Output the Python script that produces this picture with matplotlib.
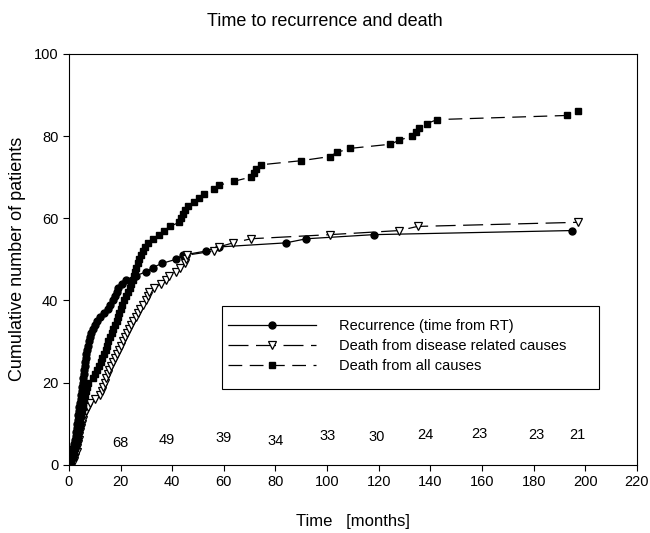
import matplotlib.pyplot as plt
from matplotlib.patches import Rectangle

plt.rcParams['font.family'] = ['Liberation Sans', 'DejaVu Sans']

# Recurrence (time from RT): event times and cumulative counts
rec_x = [0, 0.5, 1, 1.5, 2, 2.3, 2.6, 2.9, 3.1, 3.3, 3.5, 3.7, 3.9, 4.1, 4.3, 4.5,
         4.7, 4.9, 5.1, 5.3, 5.6, 5.8, 6.0, 6.2, 6.4, 6.6, 6.8, 7.0, 7.3, 7.7, 8.1,
         8.6, 9.2, 10, 11, 12, 13.5, 15, 16, 17, 17.8, 18.5, 19.2, 20.5, 22, 26, 30,
         32.5, 36, 41.5, 44, 53, 58, 84, 92, 118, 195]
rec_y = [1, 2, 3, 4, 5, 6, 7, 8, 9, 10, 11, 12, 13, 14, 15, 16,
         17, 18, 19, 20, 21, 22, 23, 24, 25, 26, 27, 28, 29, 30, 31,
         32, 33, 34, 35, 36, 37, 38, 39, 40, 41, 42, 43, 44, 45, 46, 47,
         48, 49, 50, 51, 52, 53, 54, 55, 56, 57]

# Death from disease related causes
dis_x = [2, 2.5, 3, 3.3, 3.6, 3.9, 4.1, 4.3, 4.6, 4.9, 5.3, 5.8, 6.5, 7.3, 8, 10,
         12, 12.8, 13.3, 14, 14.5, 15, 15.7, 16.4, 17, 17.7, 18.5, 19.3, 20, 20.8,
         21.6, 22.4, 23.2, 24, 25, 26, 26.7, 27.7, 28.6, 30, 30.6, 31, 33, 35.7,
         37.7, 38.9, 41.6, 43, 45, 45.3, 45.6, 56, 58, 63.6, 70.5, 101, 128, 135, 197]
dis_y = [1, 2, 3, 4, 5, 6, 7, 8, 9, 10, 11, 12, 13, 14, 15, 16,
         17, 18, 19, 20, 21, 22, 23, 24, 25, 26, 27, 28, 29, 30,
         31, 32, 33, 34, 35, 36, 37, 38, 39, 40, 41, 42, 43, 44,
         45, 46, 47, 48, 49, 50, 51, 52, 53, 54, 55, 56, 57, 58, 59]

# Death from all causes
all_x = [1, 1.6, 2, 2.4, 2.8, 3.1, 3.4, 3.7, 4, 4.2, 4.4, 4.7, 5, 5.3, 5.6, 5.9,
         6.2, 6.6, 7, 7.5, 9.5, 10.3, 11, 11.7, 12.3, 12.8, 13.5, 14.2, 14.7, 15.3,
         16, 16.6, 17.2, 17.8, 18.5, 19, 19.5, 20, 20.7, 21.5, 22.3, 23, 23.6, 24.2,
         24.7, 25.2, 25.7, 26, 26.6, 27.3, 28, 28.8, 29.6, 30.5, 32.5, 35, 37, 39,
         42.8, 43.5, 44.2, 44.8, 46, 48.6, 50.5, 52.4, 56, 58, 64, 70.4, 71.5, 72.3,
         74.4, 90, 101, 103.7, 109, 124.5, 128, 133, 134.5, 135.6, 138.5, 142.6,
         192.7, 197]
all_y = [1, 2, 3, 4, 5, 6, 7, 8, 9, 10, 11, 12, 13, 14, 15, 16,
         17, 18, 19, 20, 21, 22, 23, 24, 25, 26, 27, 28, 29, 30,
         31, 32, 33, 34, 35, 36, 37, 38, 39, 40, 41, 42, 43, 44,
         45, 46, 47, 48, 49, 50, 51, 52, 53, 54, 55, 56, 57, 58,
         59, 60, 61, 62, 63, 64, 65, 66, 67, 68, 69, 70, 71, 72,
         73, 74, 75, 76, 77, 78, 79, 80, 81, 82, 83, 84,
         85, 86]

# Numbers at risk shown along the bottom
risk_t = [20, 38, 60, 80, 100, 119, 138, 159, 181, 197]
risk_n = [68, 49, 39, 34, 33, 30, 24, 23, 23, 21]
risk_h = [5.4, 6.1, 6.6, 5.9, 6.9, 6.7, 7.2, 7.6, 7.2, 7.2]

fig = plt.figure(figsize=(6.5, 5.33), dpi=100)
ax = fig.add_axes([0.106, 0.128, 0.874, 0.771])

ax.plot(rec_x, rec_y, '-', color='black', lw=0.9, marker='o', ms=5,
        mfc='black', mec='black', label='Recurrence (time from RT)')
ax.plot(dis_x, dis_y, color='black', lw=0.9, dashes=(16, 6), marker='v', ms=6,
        mfc='white', mec='black', mew=0.9, label='Death from disease related causes')
ax.plot(all_x, all_y, color='black', lw=0.9, dashes=(11, 6), marker='s', ms=5,
        mfc='black', mec='black', label='Death from all causes')

for t, n, h in zip(risk_t, risk_n, risk_h):
    ax.text(t, h, str(n), ha='center', va='center', fontsize=10.5)

ax.set_xlim(0, 220)
ax.set_ylim(0, 100)
ax.set_xticks(range(0, 221, 20))
ax.set_yticks(range(0, 101, 20))
ax.tick_params(direction='out', length=4, labelsize=10.5, width=0.8)
for s in ax.spines.values():
    s.set_linewidth(0.8)

ax.set_xlabel('Time   [months]', fontsize=12, labelpad=18)
ax.set_ylabel('Cumulative number of patients', fontsize=13, labelpad=6)
fig.suptitle('Time to recurrence and death', fontsize=13, y=0.975)

# legend frame drawn separately so the box can be wider than its contents
box = Rectangle((222 / 650, (533 - 389) / 533), 377 / 650, 83 / 533,
                transform=fig.transFigure, fill=False, ec='black', lw=0.8, zorder=5)
fig.add_artist(box)
leg = ax.legend(loc='upper left', bbox_to_anchor=(228 / 650, (533 - 319) / 533),
                bbox_transform=fig.transFigure, fontsize=10.5, handlelength=6,
                frameon=False, labelspacing=0.4, handletextpad=1.6,
                borderpad=0, borderaxespad=0)

fig.savefig('out.png', dpi=100)
